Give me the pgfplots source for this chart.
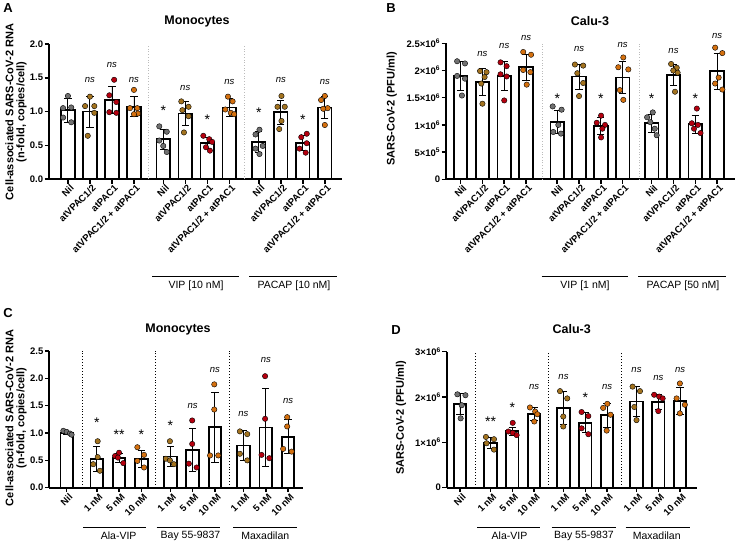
\documentclass[border=0pt]{standalone}
\usepackage{fontspec}
\setmainfont{Liberation Sans}
\usepackage{pgfplots}
\pgfplotsset{compat=1.18}

\definecolor{cgray}{HTML}{707070}
\definecolor{cbrown}{HTML}{A3731F}
\definecolor{cred}{HTML}{B5000F}
\definecolor{corange}{HTML}{D4700F}
\definecolor{sepgray}{HTML}{BBBBBB}

\newcommand{\fs}[1]{\fontsize{#1}{#1}\selectfont}

\pgfplotsset{
  panel/.style={
    scale only axis, anchor=south west,
    axis x line=bottom, axis y line=left,
    axis line style={-, line width=1.7pt, black},
    tick align=outside, major tick length=4.5pt,
    tick style={line width=1.5pt, black},
    enlargelimits=false, clip=false, ymin=0,
    yticklabel style={font=\bfseries\fs{9.5}, inner sep=1.2pt},
    xticklabel style={font=\bfseries\fs{9.5}, rotate=45, anchor=east, inner sep=1pt,
      yshift=-5pt, xshift=2pt},
  },
  bars/.style={ybar, bar shift=0pt, bar width=#1, draw=black, fill=white, line width=1.8pt,
    error bars/.cd, y dir=both, y explicit,
    error bar style={line width=0.9pt, black},
    error mark options={rotate=90, mark size=3.6pt, line width=0.9pt, black}},
  pts/.style={only marks, mark=*, mark size=2.7pt, mark options={draw=none, fill=#1}},
}
\tikzset{
  ns/.style={font=\itshape\fs{9.5}},
  st/.style={font=\fs{14}, yshift=-3pt},
  ttl/.style={font=\bfseries\fs{12.5}},
  let/.style={font=\bfseries\fs{13}},
  grp/.style={font=\fs{10.5}},
  ylab/.style={font=\bfseries\fs{11}, rotate=90, align=center},
}

\begin{document}
\begin{tikzpicture}
\path[use as bounding box] (0,0) rectangle (737pt,-543pt);

% ---------------- A ----------------
\begin{axis}[panel, at={(49pt,-179pt)}, width=293pt, height=135pt,
  xmin=-0.86, xmax=12.45, ymax=2,
  ytick={0,0.5,1,1.5,2}, yticklabels={0.0,0.5,1.0,1.5,2.0},
  xtick={0,1,2,3,4.33,5.33,6.33,7.33,8.67,9.67,10.67,11.67},
  xticklabels={Nil,atVPAC1/2,atPAC1,atVPAC1/2 + atPAC1,Nil,atVPAC1/2,atPAC1,atVPAC1/2 + atPAC1,Nil,atVPAC1/2,atPAC1,atVPAC1/2 + atPAC1}]
\draw[sepgray, dotted, line width=0.7pt] (axis cs:3.66,0) -- (axis cs:3.66,2);
\draw[sepgray, dotted, line width=0.7pt] (axis cs:8.0,0) -- (axis cs:8.0,2);
\addplot[bars=13.5pt] coordinates {
  (0,1.02) +- (0,0.18) (1,1.00) +- (0,0.23) (2,1.17) +- (0,0.20) (3,1.07) +- (0,0.15)
  (4.33,0.59) +- (0,0.15) (5.33,0.97) +- (0,0.18) (6.33,0.53) +- (0,0.08) (7.33,1.06) +- (0,0.13)
  (8.67,0.55) +- (0,0.16) (9.67,0.99) +- (0,0.18) (10.67,0.53) +- (0,0.11) (11.67,1.06) +- (0,0.16)};
\addplot[pts=cgray] coordinates {
  (0,1.23) (-0.22,1.05) (0.15,1.06) (-0.22,0.91) (0.15,0.84)
  (4.15,0.78) (4.49,0.70) (4.15,0.57) (4.33,0.49) (4.49,0.40)
  (8.52,0.66) (8.7,0.73) (8.52,0.45) (8.85,0.49) (8.7,0.37)};
\addplot[pts=cbrown] coordinates {
  (1.0,1.22) (0.78,1.08) (1.2,1.08) (1.2,0.98) (0.9,0.64)
  (5.15,1.15) (5.48,1.07) (5.2,1.02) (5.48,0.93) (5.27,0.69)
  (9.7,1.23) (9.52,1.07) (9.85,1.07) (9.7,0.86) (9.6,0.74)};
\addplot[pts=cred] coordinates {
  (2.1,1.47) (1.88,1.24) (2.2,1.14) (1.88,0.99) (2.2,0.98)
  (6.15,0.64) (6.42,0.59) (6.55,0.55) (6.27,0.47) (6.45,0.42)
  (10.85,0.67) (10.6,0.62) (10.85,0.53) (10.52,0.45) (10.8,0.39)};
\addplot[pts=corange] coordinates {
  (3.0,1.32) (2.82,1.05) (3.15,1.05) (3.18,0.97) (3.0,0.96)
  (7.27,1.22) (7.48,1.15) (7.15,1.03) (7.4,0.98) (7.55,0.96)
  (11.67,1.23) (11.5,1.17) (11.8,1.05) (11.6,1.04) (11.67,0.80)};
\node[ns] at (axis cs:1,1.47) {ns};
\node[ns] at (axis cs:2,1.69) {ns};
\node[ns] at (axis cs:3,1.47) {ns};
\node[ns] at (axis cs:5.33,1.35) {ns};
\node[ns] at (axis cs:7.33,1.44) {ns};
\node[ns] at (axis cs:9.67,1.47) {ns};
\node[ns] at (axis cs:11.67,1.44) {ns};
\node[st] at (axis cs:4.33,1.05) {*};
\node[st] at (axis cs:6.33,0.93) {*};
\node[st] at (axis cs:8.67,1.02) {*};
\node[st] at (axis cs:10.67,0.93) {*};
\end{axis}

% ---------------- B ----------------
\begin{axis}[panel, at={(446pt,-179.3pt)}, width=289pt, height=136pt,
  xmin=-0.67, xmax=12.58, ymax=2.5,
  ytick={0,0.5,1,1.5,2,2.5},
  yticklabels={0,5×10\textsuperscript{5},1×10\textsuperscript{6},1.5×10\textsuperscript{6},2×10\textsuperscript{6},2.5×10\textsuperscript{6}},
  xtick={0,1,2,3,4.43,5.43,6.43,7.43,8.76,9.76,10.76,11.76},
  xticklabels={Nil,atVPAC1/2,atPAC1,atVPAC1/2 + atPAC1,Nil,atVPAC1/2,atPAC1,atVPAC1/2 + atPAC1,Nil,atVPAC1/2,atPAC1,atVPAC1/2 + atPAC1}]
\draw[sepgray, dotted, line width=0.7pt] (axis cs:3.74,0) -- (axis cs:3.74,2.5);
\draw[sepgray, dotted, line width=0.7pt] (axis cs:8.18,0) -- (axis cs:8.18,2.5);
\addplot[bars=13.5pt] coordinates {
  (0,1.90) +- (0,0.26) (1,1.79) +- (0,0.24) (2,1.90) +- (0,0.27) (3,2.06) +- (0,0.24)
  (4.43,1.06) +- (0,0.21) (5.43,1.89) +- (0,0.23) (6.43,0.98) +- (0,0.15) (7.43,1.87) +- (0,0.30)
  (8.76,1.03) +- (0,0.16) (9.76,1.92) +- (0,0.20) (10.76,1.01) +- (0,0.16) (11.76,1.99) +- (0,0.33)};
\addplot[pts=cgray] coordinates {
  (-0.16,2.17) (0.2,2.13) (-0.16,1.90) (0.2,1.85) (0.06,1.54)
  (4.22,1.34) (4.63,1.28) (4.48,1.00) (4.25,0.87) (4.6,0.84)
  (8.81,1.23) (8.55,1.14) (8.7,1.05) (8.9,0.93) (8.99,0.81)};
\addplot[pts=cbrown] coordinates {
  (0.89,1.99) (1.19,1.97) (1.1,1.88) (0.95,1.76) (1.0,1.39)
  (5.24,2.11) (5.62,2.09) (5.35,1.95) (5.62,1.77) (5.43,1.53)
  (9.65,2.12) (9.91,2.05) (9.75,2.0) (9.95,1.96) (9.83,1.61)};
\addplot[pts=cred] coordinates {
  (1.83,2.15) (2.11,2.08) (1.83,1.93) (2.11,1.89) (2.0,1.45)
  (6.44,1.17) (6.24,1.04) (6.62,1.0) (6.5,0.93) (6.44,0.77)
  (10.83,1.30) (10.6,1.03) (10.88,1.0) (10.7,0.93) (11.0,0.85)};
\addplot[pts=corange] coordinates {
  (2.87,2.34) (3.23,2.29) (2.87,2.01) (3.2,1.97) (3.03,1.74)
  (7.46,2.24) (7.23,2.06) (7.69,2.02) (7.3,1.64) (7.46,1.46)
  (11.67,2.42) (12.0,2.32) (11.83,1.87) (11.67,1.76) (12.0,1.65)};
\node[ns] at (axis cs:1,2.30) {ns};
\node[ns] at (axis cs:2,2.45) {ns};
\node[ns] at (axis cs:3,2.60) {ns};
\node[ns] at (axis cs:5.43,2.39) {ns};
\node[ns] at (axis cs:7.43,2.47) {ns};
\node[ns] at (axis cs:9.76,2.36) {ns};
\node[ns] at (axis cs:11.76,2.63) {ns};
\node[st] at (axis cs:4.43,1.54) {*};
\node[st] at (axis cs:6.43,1.54) {*};
\node[st] at (axis cs:8.76,1.54) {*};
\node[st] at (axis cs:10.76,1.54) {*};
\end{axis}

% ---------------- C ----------------
\begin{axis}[panel, at={(49.3pt,-487.7pt)}, width=253.7pt, height=136.7pt,
  xmin=-0.78, xmax=10.6, ymax=2.5,
  ytick={0,0.5,1,1.5,2,2.5}, yticklabels={0.0,0.5,1.0,1.5,2.0,2.5},
  xtick={0,1.35,2.35,3.35,4.65,5.65,6.65,7.93,8.93,9.93},
  xticklabels={Nil,1 nM,5 nM,10 nM,1 nM,5 nM,10 nM,1 nM,5 nM,10 nM}]
\draw[black, dotted, line width=0.9pt] (axis cs:0.72,0) -- (axis cs:0.72,2.5);
\draw[black, dotted, line width=0.9pt] (axis cs:4.0,0) -- (axis cs:4.0,2.5);
\draw[black, dotted, line width=0.9pt] (axis cs:7.29,0) -- (axis cs:7.29,2.5);
\addplot[bars=12.5pt] coordinates {
  (0,1.0) +- (0,0.03) (1.35,0.53) +- (0,0.23) (2.35,0.54) +- (0,0.08) (3.35,0.53) +- (0,0.16)
  (4.65,0.57) +- (0,0.18) (5.65,0.69) +- (0,0.40) (6.65,1.11) +- (0,0.64)
  (7.93,0.77) +- (0,0.28) (8.93,1.10) +- (0,0.72) (9.93,0.93) +- (0,0.31)};
\addplot[pts=cgray] coordinates {(-0.15,1.04) (0.0,1.02) (0.15,0.99) (0.22,0.97)};
\addplot[pts=cbrown] coordinates {
  (1.39,0.85) (1.39,0.56) (1.19,0.43) (1.49,0.31)
  (4.63,0.85) (4.45,0.53) (4.63,0.50) (4.81,0.43)
  (7.77,1.03) (8.1,0.98) (7.77,0.62) (8.1,0.50)};
\addplot[pts=cred] coordinates {
  (2.17,0.58) (2.35,0.64) (2.3,0.55) (2.54,0.45)
  (5.63,1.23) (5.63,0.80) (5.48,0.44) (5.83,0.37)
  (8.9,2.04) (8.9,1.26) (8.74,0.60) (9.09,0.54)};
\addplot[pts=corange] coordinates {
  (3.17,0.74) (3.47,0.60) (3.17,0.49) (3.47,0.37)
  (6.62,1.89) (6.62,1.43) (6.43,0.59) (6.8,0.59)
  (9.89,1.29) (9.89,1.12) (9.71,0.71) (10.09,0.66)};
\node[st] at (axis cs:1.35,1.24) {*};
\node[st] at (axis cs:2.35,1.03) {**};
\node[st] at (axis cs:3.35,1.03) {*};
\node[st] at (axis cs:4.65,1.18) {*};
\node[ns] at (axis cs:5.65,1.49) {ns};
\node[ns] at (axis cs:6.65,2.16) {ns};
\node[ns] at (axis cs:7.93,1.34) {ns};
\node[ns] at (axis cs:8.93,2.33) {ns};
\node[ns] at (axis cs:9.93,1.58) {ns};
\end{axis}

% ---------------- D ----------------
\begin{axis}[panel, at={(446.7pt,-487.7pt)}, width=250.6pt, height=136pt,
  xmin=-0.61, xmax=10.89, ymax=3,
  ytick={0,1,2,3},
  yticklabels={0,1×10\textsuperscript{6},2×10\textsuperscript{6},3×10\textsuperscript{6}},
  xtick={0,1.4,2.4,3.4,4.75,5.75,6.75,8.1,9.1,10.1},
  xticklabels={Nil,1 nM,5 nM,10 nM,1 nM,5 nM,10 nM,1 nM,5 nM,10 nM}]
\draw[black, dotted, line width=0.9pt] (axis cs:0.72,0) -- (axis cs:0.72,3);
\draw[black, dotted, line width=0.9pt] (axis cs:4.08,0) -- (axis cs:4.08,3);
\draw[black, dotted, line width=0.9pt] (axis cs:7.41,0) -- (axis cs:7.41,3);
\addplot[bars=12.5pt] coordinates {
  (0,1.85) +- (0,0.23) (1.4,0.99) +- (0,0.12) (2.4,1.25) +- (0,0.09) (3.4,1.62) +- (0,0.14)
  (4.75,1.76) +- (0,0.36) (5.75,1.43) +- (0,0.22) (6.75,1.60) +- (0,0.26)
  (8.1,1.90) +- (0,0.33) (9.1,1.89) +- (0,0.17) (10.1,1.92) +- (0,0.30)};
\addplot[pts=cgray] coordinates {(-0.12,2.06) (0.25,2.04) (0.08,1.82) (0.03,1.53)};
\addplot[pts=cbrown] coordinates {
  (1.19,1.12) (1.56,1.07) (1.22,0.98) (1.56,0.84)
  (4.59,2.13) (4.92,1.97) (4.74,1.57) (4.74,1.35)
  (7.92,2.23) (8.26,2.13) (8.0,1.78) (8.1,1.49)};
\addplot[pts=cred] coordinates {
  (2.42,1.43) (2.22,1.24) (2.42,1.21) (2.6,1.16)
  (5.58,1.67) (5.89,1.58) (5.58,1.31) (5.89,1.18)
  (8.91,2.05) (9.14,2.01) (9.3,1.97) (9.1,1.69)};
\addplot[pts=corange] coordinates {
  (3.21,1.77) (3.45,1.68) (3.55,1.62) (3.41,1.46)
  (6.76,1.85) (6.57,1.76) (6.91,1.61) (6.73,1.26)
  (10.09,2.30) (9.94,1.97) (10.32,1.83) (10.09,1.64)};
\node[st] at (axis cs:1.4,1.53) {**};
\node[st] at (axis cs:2.4,1.83) {*};
\node[ns] at (axis cs:3.4,2.23) {ns};
\node[ns] at (axis cs:4.75,2.44) {ns};
\node[st] at (axis cs:5.75,2.05) {*};
\node[ns] at (axis cs:6.75,2.23) {ns};
\node[ns] at (axis cs:8.1,2.6) {ns};
\node[ns] at (axis cs:9.1,2.41) {ns};
\node[ns] at (axis cs:10.1,2.6) {ns};
\end{axis}

% ---------------- labels outside the axes ----------------
\node[let] at (8pt,-8.5pt) {A};
\node[let] at (391pt,-8.5pt) {B};
\node[let] at (8pt,-313.5pt) {C};
\node[let] at (396pt,-330.5pt) {D};

\node[ttl] at (197pt,-21pt) {Monocytes};
\node[ttl] at (590pt,-21pt) {Calu-3};
\node[ttl] at (178pt,-329pt) {Monocytes};
\node[ttl] at (571.7pt,-329pt) {Calu-3};

\node[ylab] at (16pt,-112pt) {Cell-associated SARS-CoV-2 RNA\\(n-fold, copies/cell)};
\node[ylab] at (391.7pt,-109pt) {SARS-CoV-2 (PFU/ml)};
\node[ylab] at (16pt,-418pt) {Cell-associated SARS-CoV-2 RNA\\(n-fold, copies/cell)};
\node[ylab] at (401pt,-418pt) {SARS-CoV-2 (PFU/ml)};

\draw[line width=0.8pt] (152pt,-276.7pt) -- (239.3pt,-276.7pt);
\draw[line width=0.8pt] (249.3pt,-276.7pt) -- (336.7pt,-276.7pt);
\node[grp] at (196pt,-286pt) {VIP [10 nM]};
\node[grp] at (294pt,-286pt) {PACAP [10 nM]};
\draw[line width=0.8pt] (541.7pt,-276.7pt) -- (628.3pt,-276.7pt);
\draw[line width=0.8pt] (638.3pt,-276.7pt) -- (726pt,-276.7pt);
\node[grp] at (585pt,-286pt) {VIP [1 nM]};
\node[grp] at (683pt,-286pt) {PACAP [50 nM]};

\draw[line width=0.8pt] (83.3pt,-527.3pt) -- (145.7pt,-527.3pt);
\draw[line width=0.8pt] (156.7pt,-527.3pt) -- (220pt,-527.3pt);
\draw[line width=0.8pt] (233.3pt,-527.3pt) -- (296.7pt,-527.3pt);
\node[grp] at (118.7pt,-536pt) {Ala-VIP};
\node[grp] at (190.5pt,-536pt) {Bay 55-9837};
\node[grp] at (265.3pt,-536pt) {Maxadilan};
\draw[line width=0.8pt] (477.3pt,-527.3pt) -- (540pt,-527.3pt);
\draw[line width=0.8pt] (551.7pt,-527.3pt) -- (615.7pt,-527.3pt);
\draw[line width=0.8pt] (625.7pt,-527.3pt) -- (690pt,-527.3pt);
\node[grp] at (509.5pt,-536pt) {Ala-VIP};
\node[grp] at (584pt,-536pt) {Bay 55-9837};
\node[grp] at (656.7pt,-536pt) {Maxadilan};
\end{tikzpicture}
\end{document}
